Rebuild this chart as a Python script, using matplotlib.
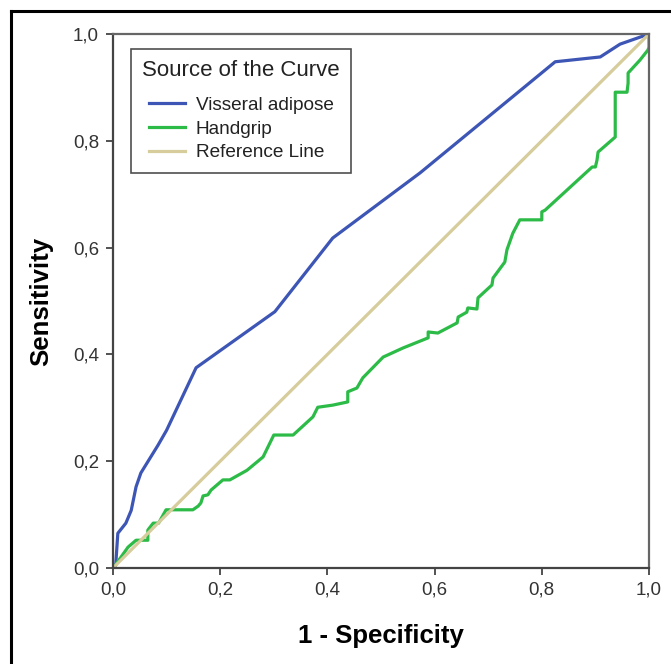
import numpy as np
import matplotlib
matplotlib.use("Agg")
import matplotlib.pyplot as plt
from matplotlib.lines import Line2D

plt.rcParams['font.family'] = ['Liberation Sans', 'DejaVu Sans']

# ROC points
visceral_fpr = [0, 0.005, 0.009, 0.024, 0.034, 0.043, 0.052, 0.084, 0.1, 0.155,
                0.302, 0.41, 0.573, 0.825, 0.909, 0.946, 1.0]
visceral_tpr = [0, 0.005, 0.065, 0.084, 0.108, 0.152, 0.178, 0.23, 0.258, 0.375,
                0.48, 0.618, 0.74, 0.948, 0.957, 0.981, 1.0]

handgrip_fpr = [0, 0.004, 0.028, 0.043, 0.065, 0.065, 0.075, 0.085, 0.099, 0.149,
                0.159, 0.164, 0.168, 0.177, 0.183, 0.205, 0.218, 0.25, 0.28, 0.3,
                0.336, 0.373, 0.382, 0.41, 0.438, 0.438, 0.455, 0.466, 0.504, 0.541,
                0.588, 0.588, 0.606, 0.642, 0.644, 0.66, 0.662, 0.679, 0.681, 0.707,
                0.709, 0.731, 0.735, 0.746, 0.759, 0.8, 0.8, 0.806, 0.894, 0.9,
                0.903, 0.905, 0.937, 0.937, 0.959, 0.961, 0.961, 0.983, 0.998, 1.0, 1.0]
handgrip_tpr = [0, 0.005, 0.039, 0.052, 0.052, 0.071, 0.084, 0.084, 0.109, 0.109,
                0.116, 0.122, 0.135, 0.137, 0.146, 0.165, 0.165, 0.183, 0.208, 0.249,
                0.249, 0.283, 0.301, 0.305, 0.311, 0.33, 0.337, 0.356, 0.395, 0.412,
                0.431, 0.442, 0.44, 0.459, 0.47, 0.479, 0.487, 0.485, 0.506, 0.53,
                0.543, 0.573, 0.596, 0.627, 0.652, 0.652, 0.667, 0.67, 0.751, 0.751,
                0.764, 0.779, 0.807, 0.891, 0.891, 0.908, 0.927, 0.951, 0.97, 0.975, 1.0]

ref_x = [0, 1]
ref_y = [0, 1]

ticks = [0.0, 0.2, 0.4, 0.6, 0.8, 1.0]
tick_labels = ["0,0", "0,2", "0,4", "0,6", "0,8", "1,0"]

fig = plt.figure(figsize=(6.71, 6.64), dpi=100)
ax = fig.add_axes([113/671, 1 - 568/664, 536/671, 534/664])

ax.plot(visceral_fpr, visceral_tpr, color="#3d56b5", lw=2.3, label="Visseral adipose")
ax.plot(handgrip_fpr, handgrip_tpr, color="#2dbb48", lw=2.3, label="Handgrip")
ax.plot(ref_x, ref_y, color="#d6cc9c", lw=2.3, label="Reference Line")

ax.set_xlim(0, 1)
ax.set_ylim(0, 1)
ax.set_xticks(ticks)
ax.set_xticklabels(tick_labels)
ax.set_yticks(ticks)
ax.set_yticklabels(tick_labels)
ax.tick_params(direction="out", length=5, width=1.3, color="#444444",
               labelsize=13.5, labelcolor="#333333", pad=5)
for s in ax.spines.values():
    s.set_color("#666666")
    s.set_linewidth(1.6)
ax.spines["left"].set_color("#444444")
ax.spines["bottom"].set_color("#444444")

ax.set_xlabel("1 - Specificity", fontsize=18.5, fontweight="bold", labelpad=18)
ax.set_ylabel("Sensitivity", fontsize=18.5, fontweight="bold", labelpad=14)

leg = ax.legend(title="Source of the Curve", loc="upper left",
                bbox_to_anchor=(18/536, 1 - 15/534), fontsize=13.7, title_fontsize=16,
                frameon=True, fancybox=False, handlelength=1.9, handletextpad=0.55,
                labelspacing=0.33, borderpad=0.6, borderaxespad=0)
leg._legend_box.sep = 11
leg.get_frame().set_edgecolor("#222222")
leg.get_frame().set_linewidth(1.2)
leg.get_title().set_color("#222222")
for t in leg.get_texts():
    t.set_color("#222222")

# figure frame on left and top
fig.add_artist(Line2D([10.5/671, 10.5/671], [0, 1 - 10.5/664], color="black", lw=2.2,
                      transform=fig.transFigure))
fig.add_artist(Line2D([10.5/671, 1], [1 - 10.5/664, 1 - 10.5/664], color="black", lw=2.2,
                      transform=fig.transFigure))

fig.savefig("out.png", dpi=100)
